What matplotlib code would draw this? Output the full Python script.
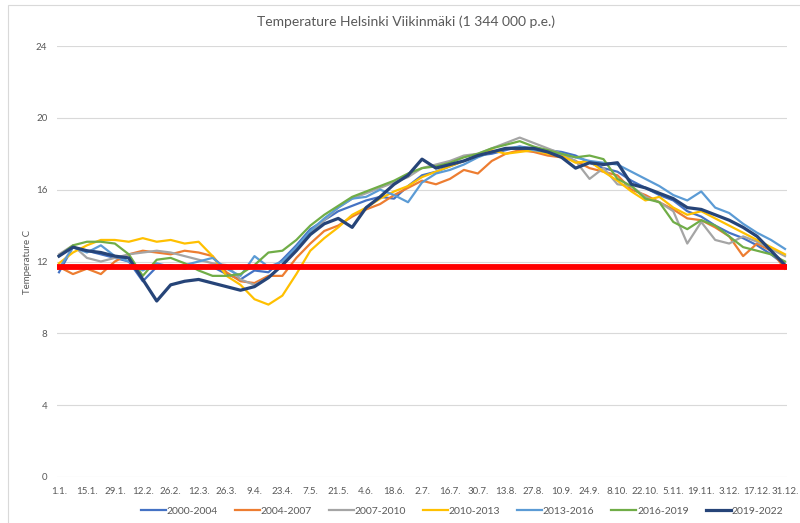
import numpy as np
import matplotlib.pyplot as plt
from matplotlib.patches import Rectangle

plt.rcParams['font.family'] = ['Lato', 'DejaVu Sans']

# Data: weekly readings (day of year 0, 7, ..., 364), temperature C
days = list(range(0, 365, 7))

s2000_2004 = [11.4, 12.8, 12.6, 12.4, 12.2, 12.0, 10.9, 11.7, 11.8, 11.6, 11.8, 11.7, 11.3, 11.0,
              11.5, 11.4, 12.1, 12.9, 13.8, 14.3, 14.8, 15.1, 15.4, 15.6, 15.5, 16.2, 16.8, 17.0,
              17.3, 17.6, 17.9, 18.0, 18.2, 18.4, 18.3, 18.2, 18.1, 17.9, 17.5, 17.2, 17.0, 16.5,
              16.1, 15.7, 15.4, 14.8, 14.5, 14.0, 13.6, 13.3, 12.9, 12.4, 11.8]
s2004_2007 = [11.7, 11.3, 11.6, 11.3, 12.0, 12.4, 12.6, 12.5, 12.4, 12.6, 12.5, 12.3, 11.4, 10.9,
              10.8, 11.2, 11.2, 12.2, 13.0, 13.7, 14.0, 14.5, 14.9, 15.2, 15.7, 16.1, 16.5, 16.3,
              16.6, 17.1, 16.9, 17.6, 18.0, 18.2, 18.1, 17.9, 17.8, 17.6, 17.2, 17.0, 16.8, 16.0,
              15.7, 15.3, 14.9, 14.4, 14.3, 13.9, 13.4, 12.3, 13.0, 12.6, 11.6]
s2007_2010 = [12.4, 12.9, 12.2, 12.0, 12.2, 12.4, 12.5, 12.6, 12.5, 12.3, 12.1, 11.9, 11.8, 11.0,
              10.7, 11.1, 11.8, 12.7, 13.6, 14.3, 15.0, 15.5, 15.8, 16.1, 16.4, 16.7, 17.2, 17.4,
              17.6, 17.9, 18.0, 18.3, 18.6, 18.9, 18.6, 18.3, 18.0, 17.6, 16.6, 17.2, 16.3, 16.2,
              15.6, 15.3, 14.8, 13.0, 14.2, 13.2, 13.0, 13.4, 13.1, 12.7, 12.3]
s2010_2013 = [11.9, 12.5, 12.9, 13.2, 13.2, 13.1, 13.3, 13.1, 13.2, 13.0, 13.1, 12.3, 11.2, 10.7,
              9.9, 9.6, 10.1, 11.3, 12.6, 13.3, 13.9, 14.6, 15.0, 15.5, 15.9, 16.2, 16.7, 17.0,
              17.3, 17.6, 17.9, 18.2, 18.0, 18.1, 18.2, 18.0, 17.9, 17.5, 17.6, 17.0, 16.5, 15.9,
              15.4, 15.6, 15.0, 14.6, 14.8, 14.4, 14.0, 13.6, 13.2, 12.8, 12.4]
s2013_2016 = [11.6, 12.8, 12.5, 12.9, 12.3, 12.0, 11.5, 11.9, 11.7, 11.8, 12.0, 12.2, 11.6, 11.2,
              12.3, 11.7, 12.0, 12.8, 13.7, 14.4, 15.0, 15.5, 15.6, 16.0, 15.7, 15.3, 16.4, 16.9,
              17.1, 17.4, 17.8, 18.1, 18.3, 18.4, 18.2, 18.1, 18.0, 17.8, 17.6, 17.5, 17.4, 17.0,
              16.6, 16.2, 15.7, 15.4, 15.9, 15.0, 14.7, 14.1, 13.6, 13.2, 12.7]
s2016_2019 = [12.3, 12.9, 13.1, 13.1, 13.0, 12.4, 11.2, 12.1, 12.2, 11.9, 11.5, 11.2, 11.2, 11.3,
              11.8, 12.5, 12.6, 13.2, 14.0, 14.6, 15.1, 15.6, 15.9, 16.2, 16.5, 16.9, 17.2, 17.3,
              17.5, 17.8, 18.0, 18.3, 18.5, 18.7, 18.4, 18.2, 18.0, 17.8, 17.9, 17.7, 16.6, 16.2,
              15.5, 15.3, 14.2, 13.8, 14.3, 14.0, 13.4, 12.8, 12.6, 12.4, 12.0]
s2019_2022 = [12.3, 12.8, 12.6, 12.5, 12.3, 12.2, 11.0, 9.8, 10.7, 10.9, 11.0, 10.8, 10.6, 10.4,
              10.6, 11.1, 11.8, 12.6, 13.5, 14.1, 14.4, 13.9, 15.0, 15.6, 16.3, 16.8, 17.7, 17.2,
              17.4, 17.6, 17.9, 18.1, 18.3, 18.3, 18.3, 18.1, 17.8, 17.2, 17.5, 17.4, 17.5, 16.3,
              16.1, 15.8, 15.5, 15.0, 14.9, 14.6, 14.3, 13.9, 13.4, 12.6, 11.8]

series_names = ['2000-2004', '2004-2007', '2007-2010', '2010-2013',
                '2013-2016', '2016-2019', '2019-2022']
series_data = [s2000_2004, s2004_2007, s2007_2010, s2010_2013,
               s2013_2016, s2016_2019, s2019_2022]
colors = ['#4472C4', '#ED7D31', '#A5A5A5', '#FFC000', '#5B9BD5', '#70AD47', '#264478']

tick_days = list(range(0, 365, 14))
tick_labels = ['1.1.', '15.1.', '29.1.', '12.2.', '26.2.', '12.3.', '26.3.', '9.4.', '23.4.',
               '7.5.', '21.5.', '4.6.', '18.6.', '2.7.', '16.7.', '30.7.', '13.8.', '27.8.',
               '10.9.', '24.9.', '8.10.', '22.10.', '5.11.', '19.11.', '3.12.', '17.12.', '31.12.']
limit_value = 11.72

txt = '#595959'

fig = plt.figure(figsize=(8, 5.23), dpi=100)
ax = fig.add_axes([57 / 800, 1 - 477 / 523, 730 / 800, (477 - 46) / 523])

for name, vals, c in zip(series_names, series_data, colors):
    lw = 2.3 if name == '2019-2022' else 1.6
    ax.plot(days, vals, color=c, lw=lw, label=name, solid_joinstyle='round')

ax.axhline(limit_value, color='#FF0000', lw=4.2, zorder=5)

ax.set_xlim(-1, 365)
ax.set_ylim(0, 24)
ax.set_yticks(range(0, 25, 4))
ax.set_xticks(tick_days)
ax.set_xticklabels(tick_labels)
ax.tick_params(axis='both', length=0, labelsize=7, colors=txt)
ax.tick_params(axis='y', pad=7)
ax.tick_params(axis='x', pad=7)
ax.grid(axis='y', color='#D9D9D9', lw=0.8)
ax.set_axisbelow(True)
for sp in ax.spines.values():
    sp.set_visible(False)

ax.set_ylabel('Temperature C', fontsize=7, color=txt)
ax.yaxis.set_label_coords(-25 / 730, 0.5)
fig.text(0.508, 1 - 22 / 523, 'Temperature Helsinki Viikinmäki (1 344 000 p.e.)',
         ha='center', va='center', fontsize=10, color=txt)

ax.legend(loc='center', bbox_to_anchor=(462 / 800, 1 - 511 / 523),
          bbox_transform=fig.transFigure, ncol=7, frameon=False, fontsize=7.5,
          handlelength=2.4, handletextpad=0.1, columnspacing=1.6, labelcolor=txt)

fig.patches.append(Rectangle((8 / 800, -0.05), 1.2, 1.05 - 5 / 523, transform=fig.transFigure,
                             fill=False, edgecolor='#D9D9D9', lw=0.8))

fig.savefig('out.png', dpi=100)
